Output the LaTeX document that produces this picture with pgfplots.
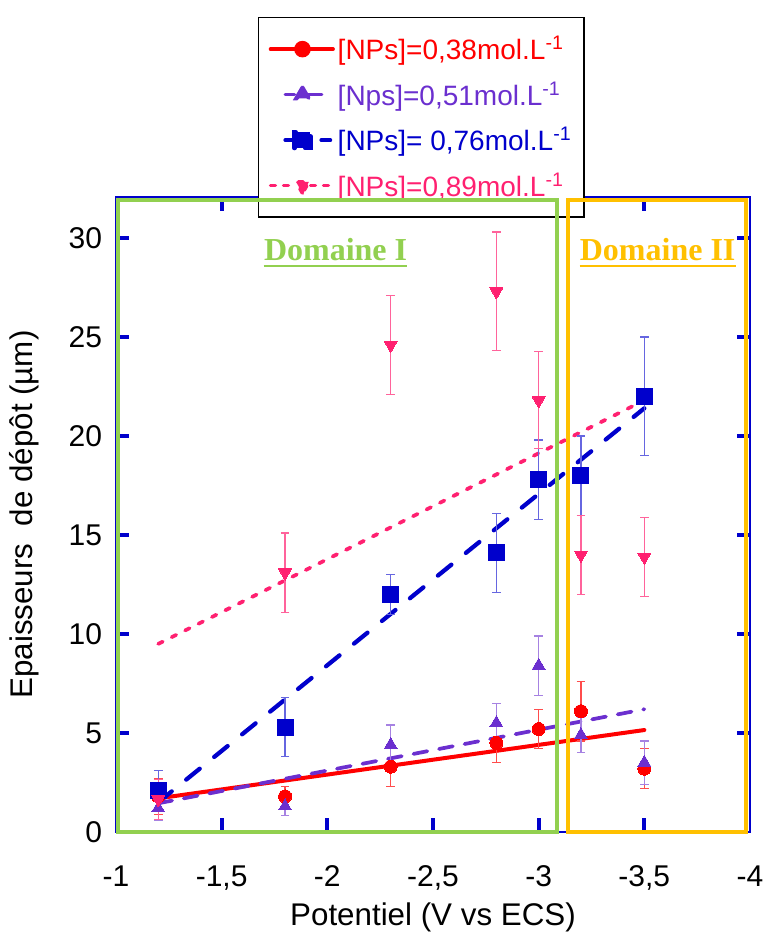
\documentclass[border=0pt]{standalone}
\usepackage{pgfplots}
\pgfplotsset{compat=1.18}
\usepackage{fontspec}
\setmainfont{Liberation Sans}
\newfontfamily\serifbf{Liberation Serif}
\definecolor{cred}{HTML}{FF0000}
\definecolor{cpur}{HTML}{6B2FCF}
\definecolor{cblue}{HTML}{0000CC}
\definecolor{cpink}{HTML}{FF2070}
\definecolor{cgreen}{HTML}{92D050}
\definecolor{cgold}{HTML}{FFC000}
\begin{document}
\begin{tikzpicture}
\begin{axis}[
  at={(0,0)}, anchor=south west,
  scale only axis, width=475.5pt, height=476.25pt,
  x dir=reverse, xmin=-4, xmax=-1, ymin=0, ymax=32.07,
  xtick={-1,-1.5,-2,-2.5,-3,-3.5,-4},
  xticklabels={-1,{-1,5},-2,{-2,5},-3,{-3,5},-4},
  ytick={0,5,10,15,20,25,30},
  tick pos=both,
  tick align=inside,
  major tick length=7pt,
  xtick style={cblue, line width=2.2pt},
  ytick style={cblue, line width=2.2pt},
  axis line style={draw=cblue, line width=1.1pt},
  /pgf/number format/assume math mode=true,
  tick label style={font=\fontsize{22.5}{26}\selectfont},
  xticklabel style={anchor=base, yshift=-40.5pt},
  yticklabel style={anchor=east, xshift=-7pt},
  xlabel={Potentiel (V vs ECS)},
  ylabel={Epaisseurs\ \ de dépôt (µm)},
  every axis x label/.style={at={(rel axis cs:0.5,0)}, yshift=-64pt, anchor=center,
    font=\fontsize{23.5}{27}\selectfont},
  every axis y label/.style={at={(rel axis cs:0,0.5)}, xshift=-69pt, rotate=90, anchor=center,
    font=\fontsize{23.5}{27}\selectfont},
  clip=false,
  legend style={at={(0.224,1.2835)}, anchor=north west, draw=black, line width=1.1pt,
    fill=white, font=\fontsize{21}{25}\selectfont, inner xsep=7.5pt, inner ysep=12pt,
    row sep=11pt, nodes={inner sep=2pt}},
  legend cell align=left,
]
% trend lines (legend entries)
\addplot[cred, line width=3pt, line cap=round,
  legend image code/.code={
    \draw[cred, line width=2.6pt] (0pt,0pt) -- (47pt,0pt);
    \fill[cred] (24pt,0pt) circle (4.7pt);}]
  coordinates {(-1.2,1.7) (-3.5,5.15)};
\addlegendentry{\textcolor{cred}{[NPs]=0,38mol.L\textsuperscript{-1}}}
\addplot[cpur, line width=2.8pt, dash pattern=on 10.5pt off 9pt, line cap=round,
  legend image code/.code={
    \draw[cpur, line width=2.4pt] (11pt,0pt) -- (18pt,0pt);
    \draw[cpur, line width=2.4pt] (28pt,0pt) -- (45pt,0pt);
    \fill[cpur] (24pt,5.5pt) -- (19.2pt,-2.8pt) -- (28.8pt,-2.8pt) -- cycle;}]
  coordinates {(-1.2,1.45) (-3.5,6.2)};
\addlegendentry{\textcolor{cpur}{[Nps]=0,51mol.L\textsuperscript{-1}}}
\addplot[cblue, line width=3.2pt, dash pattern=on 13pt off 14pt, line cap=round,
  legend image code/.code={
    \draw[cblue, line width=2.6pt] (11pt,0pt) -- (45pt,0pt);
    \fill[cblue] (18pt,-6pt) rectangle (30pt,6pt);}]
  coordinates {(-1.2,1.5) (-3.5,21.4)};
\addlegendentry{\textcolor{cblue}{[NPs]= 0,76mol.L\textsuperscript{-1}}}
\addplot[cpink, line width=2.8pt, dash pattern=on 3.75pt off 7.5pt, line cap=round,
  legend image code/.code={
    \draw[cpink, line width=2.4pt] (0pt,0pt) -- (7.5pt,0pt);
    \draw[cpink, line width=2.4pt] (9.75pt,0pt) -- (17.25pt,0pt);
    \draw[cpink, line width=2.4pt] (30pt,0pt) -- (37.5pt,0pt);
    \draw[cpink, line width=2.4pt] (39.75pt,0pt) -- (47.25pt,0pt);
    \fill[cpink] (24pt,-5.5pt) -- (19.2pt,2.8pt) -- (28.8pt,2.8pt) -- cycle;}]
  coordinates {(-1.2,9.5) (-3.5,21.8)};
\addlegendentry{\textcolor{cpink}{[NPs]=0,89mol.L\textsuperscript{-1}}}
% data points with error bars
\addplot[forget plot, only marks, color=cred, mark=*, mark size=4.9pt,
  mark options={solid, line width=0pt},
  error bars/.cd, y dir=both, y explicit,
  error bar style={cred!70!white, line width=0.9pt},
  error mark options={rotate=90, mark size=3.2pt, cred!70!white, line width=0.9pt}]
  coordinates {(-1.2,1.8) +- (0,0.9) (-1.8,1.8) +- (0,0.5) (-2.3,3.3) +- (0,1.0)
    (-2.8,4.5) +- (0,1.0) (-3.0,5.2) +- (0,1.0) (-3.2,6.1) +- (0,1.5) (-3.5,3.2) +- (0,1.0)};
\addplot[forget plot, only marks, color=cpur, mark=triangle*, mark size=5.6pt,
  mark options={solid, line width=0pt},
  error bars/.cd, y dir=both, y explicit,
  error bar style={cpur!60!white, line width=0.9pt},
  error mark options={rotate=90, mark size=3.2pt, cpur!60!white, line width=0.9pt}]
  coordinates {(-1.2,1.2) +- (0,0.6) (-1.8,1.3) +- (0,0.45) (-2.3,4.4) +- (0,1.0)
    (-2.8,5.5) +- (0,1.0) (-3.0,8.4) +- (0,1.5) (-3.2,4.9) +- (0,0.9) (-3.5,3.5) +- (0,1.1)};
\addplot[forget plot, only marks, color=cblue, mark=square*, mark size=6pt,
  mark options={solid, line width=0pt},
  error bars/.cd, y dir=both, y explicit,
  error bar style={cblue!60!white, line width=0.9pt},
  error mark options={rotate=90, mark size=3.2pt, cblue!60!white, line width=0.9pt}]
  coordinates {(-1.2,2.1) +- (0,1.0) (-1.8,5.3) +- (0,1.5) (-2.3,12.0) +- (0,1.0)
    (-2.8,14.1) +- (0,2.0) (-3.0,17.8) +- (0,2.0) (-3.2,18.0) +- (0,2.0) (-3.5,22.0) +- (0,3.0)};
\addplot[forget plot, only marks, color=cpink, mark=triangle*, mark size=5.6pt,
  mark options={solid, line width=0pt, rotate=180},
  error bars/.cd, y dir=both, y explicit,
  error bar style={cpink!70!white, line width=0.9pt},
  error mark options={rotate=90, mark size=3.2pt, cpink!70!white, line width=0.9pt}]
  coordinates {(-1.2,1.65) +- (0,1.0) (-1.8,13.1) +- (0,2.0) (-2.3,24.6) +- (0,2.5)
    (-2.8,27.3) +- (0,3.0) (-3.0,21.8) +- (0,2.45) (-3.2,14.0) +- (0,2.0) (-3.5,13.9) +- (0,2.0)};
% tick marks (blue, inside, on all four sides)
\pgfplotsinvokeforeach{-1.5,-2,-2.5,-3,-3.5}{
  \draw[cblue, line width=3pt] (axis cs:#1,0) -- ++(0pt,10.5pt);
  \draw[cblue, line width=3pt] (axis cs:#1,32.07) -- ++(0pt,-10.5pt);
}
\pgfplotsinvokeforeach{5,10,15,20,25,30}{
  \draw[cblue, line width=3pt] (axis cs:-1,#1) -- ++(10pt,0pt);
  \draw[cblue, line width=3pt] (axis cs:-4,#1) -- ++(-10pt,0pt);
}
% domain annotations
\coordinate (gA) at (axis cs:-1.01,0);
\coordinate (gB) at (axis cs:-3.087,31.92);
\coordinate (oA) at (axis cs:-3.139,0);
\coordinate (oB) at (axis cs:-3.981,31.92);
\node[inner sep=0pt, anchor=base, font=\serifbf\bfseries\fontsize{24}{28}\selectfont, text=cgreen]
  (d1) at (axis cs:-2.039,28.84) {Domaine I};
\node[inner sep=0pt, anchor=base, font=\serifbf\bfseries\fontsize{24}{28}\selectfont, text=cgold]
  (d2) at (axis cs:-3.563,28.84) {Domaine II};
\draw[cgreen, line width=1.9pt] ([yshift=-3.75pt]d1.base west) -- ([yshift=-3.75pt]d1.base east);
\draw[cgold, line width=1.9pt] ([yshift=-3.75pt]d2.base west) -- ([yshift=-3.75pt]d2.base east);
\end{axis}
\draw[cgreen, line width=3pt] (gA) rectangle (gB);
\draw[cgold, line width=3pt] (oA) rectangle (oB);
\path[use as bounding box] (-87pt,-79.5pt) rectangle (484.5pt,624pt);
\end{tikzpicture}
\end{document}
